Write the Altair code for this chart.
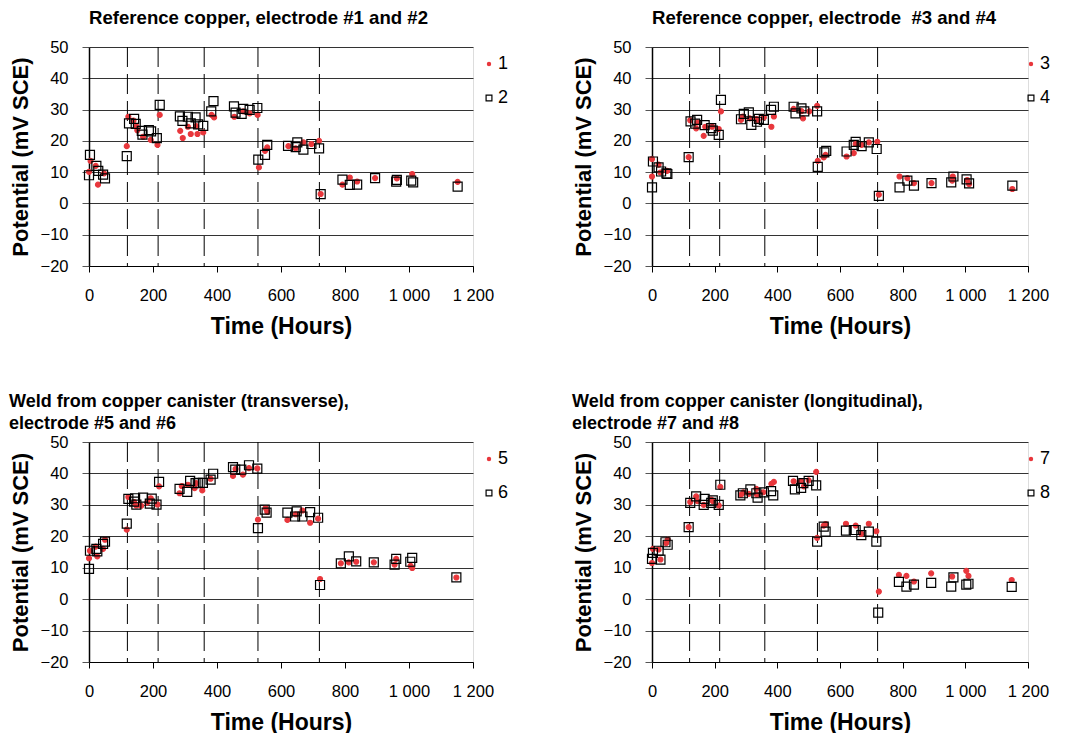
import altair as alt
import pandas as pd

FONT = "Liberation Sans"
RED = "#e8373c"
HOURS_TICKS = [0, 200, 400, 600, 800, 1000, 1200]
POT_TICKS = [-20, -10, 0, 10, 20, 30, 40, 50]
DASHED_HOURS = [120, 216, 360, 528, 720]

# Panel 1: Reference copper, electrodes 1 and 2
p1_e1_hours = [0, 5, 21, 28, 47, 118, 123, 139, 148, 151, 169, 193, 214, 221, 285, 293, 309, 318, 335, 339, 357,
               383, 391, 454, 482, 502, 527, 531, 550, 557, 623, 646, 670, 695, 719, 724, 792, 815, 838, 894,
               962, 1010, 1152]
p1_e1_pot = [10.1, 13.6, 12.0, 6.0, 9.6, 18.3, 27.7, 26.5, 24.6, 23.4, 21.3, 20.3, 18.7, 28.3, 23.2, 20.9, 24.5,
             22.2, 24.7, 22.2, 22.7, 28.3, 27.5, 27.7, 29.4, 28.8, 28.3, 11.5, 16.8, 17.9, 18.3, 17.6, 19.5,
             19.0, 20.0, 3.0, 6.0, 8.3, 7.0, 8.1, 8.0, 9.4, 6.9]
p1_e2_hours = [0, 3, 23, 29, 44, 50, 118, 125, 141, 146, 165, 167, 187, 194, 212, 221, 284, 292, 309, 318, 333,
               341, 357, 382, 389, 453, 458, 477, 482, 502, 526, 529, 550, 557, 622, 646, 651, 670, 695, 719,
               724, 792, 815, 838, 894, 960, 962, 1007, 1013, 1152]
p1_e2_pot = [9.0, 15.5, 12.0, 10.4, 9.2, 8.0, 15.1, 25.6, 27.0, 25.4, 23.2, 22.0, 23.4, 23.0, 20.9, 31.5, 27.8,
             26.4, 27.7, 25.6, 27.5, 25.3, 24.8, 29.4, 32.7, 31.0, 29.0, 28.6, 30.2, 29.9, 30.5, 14.0, 15.5,
             18.7, 18.4, 18.0, 19.5, 17.2, 19.0, 17.6, 3.0, 7.6, 5.9, 6.0, 8.1, 7.0, 7.5, 7.3, 6.7, 5.4]

# Panel 2: Reference copper, electrodes 3 and 4
p2_e3_hours = [0, 0, 21, 27, 48, 117, 122, 141, 145, 165, 170, 192, 213, 220, 284, 290, 312, 333, 337, 357, 381,
               389, 452, 477, 482, 502, 527, 529, 548, 554, 621, 644, 650, 669, 692, 719, 724, 790, 815, 836,
               892, 958, 960, 1006, 1012, 1150]
p2_e3_pot = [14.2, 8.6, 12.4, 9.9, 10.4, 14.8, 26.6, 24.0, 25.9, 21.6, 24.5, 24.5, 23.8, 29.4, 26.7, 27.8, 27.2,
             27.0, 26.7, 27.5, 24.5, 27.8, 30.2, 29.5, 27.2, 29.4, 31.2, 13.6, 14.7, 15.5, 15.0, 16.1, 19.0,
             18.7, 19.5, 19.7, 2.8, 8.6, 8.1, 6.5, 6.5, 7.3, 8.6, 7.5, 6.2, 4.6]
p2_e4_hours = [0, 3, 21, 29, 46, 49, 117, 123, 138, 144, 168, 189, 194, 213, 220, 284, 293, 309, 317, 335, 341,
               357, 380, 389, 452, 458, 477, 486, 527, 529, 550, 556, 621, 644, 650, 669, 692, 717, 724, 790,
               815, 836, 892, 955, 962, 1004, 1012, 1150]
p2_e4_pot = [5.1, 13.4, 11.5, 10.2, 9.6, 9.4, 14.8, 26.2, 25.5, 26.7, 25.0, 24.1, 23.3, 21.9, 33.1, 26.9, 28.6,
             29.1, 25.1, 26.1, 27.0, 26.7, 29.9, 30.9, 30.9, 28.8, 30.4, 29.4, 29.4, 11.7, 16.3, 16.8, 16.6,
             18.7, 19.7, 18.3, 19.5, 17.4, 2.4, 5.1, 7.3, 5.7, 6.5, 6.7, 8.6, 7.7, 6.4, 5.7]

# Panel 3: Weld (transverse), electrodes 5 and 6
p3_e5_hours = [0, 3, 21, 26, 44, 50, 118, 123, 141, 148, 163, 182, 193, 214, 219, 283, 290, 309, 330, 335, 354,
               380, 450, 458, 481, 500, 526, 528, 552, 557, 620, 646, 667, 691, 716, 722, 787, 812, 835, 890,
               955, 960, 1005, 1010, 1148]
p3_e5_pot = [13.0, 15.4, 16.7, 13.6, 16.0, 18.9, 22.1, 32.5, 30.9, 29.8, 29.7, 30.7, 32.1, 30.1, 35.9, 33.7,
             36.0, 36.4, 35.3, 36.9, 34.6, 38.3, 39.2, 41.4, 39.6, 41.7, 41.6, 25.3, 29.0, 27.8, 25.2, 27.0,
             28.2, 24.3, 25.6, 6.4, 11.4, 11.7, 11.9, 11.7, 11.0, 12.8, 10.6, 9.9, 6.9]
p3_e6_hours = [0, 3, 23, 26, 44, 50, 118, 123, 141, 144, 148, 169, 190, 196, 211, 219, 283, 307, 316, 333, 340,
               356, 380, 388, 450, 457, 476, 500, 526, 528, 549, 555, 620, 644, 649, 667, 691, 716, 722, 787,
               812, 835, 890, 955, 960, 1004, 1010, 1148]
p3_e6_pot = [9.6, 15.4, 16.0, 15.2, 17.6, 18.3, 24.0, 31.9, 31.0, 32.1, 30.1, 32.3, 30.4, 32.0, 30.1, 37.3,
             35.1, 34.1, 37.6, 36.9, 37.0, 37.0, 38.0, 39.9, 42.0, 41.2, 41.2, 42.6, 41.5, 22.6, 28.5, 27.5,
             27.5, 26.3, 27.9, 26.3, 27.7, 25.9, 4.5, 11.4, 13.6, 12.0, 11.7, 11.0, 12.8, 11.9, 13.1, 6.9]

# Panel 4: Weld (longitudinal), electrodes 7 and 8
p4_e7_hours = [0, 3, 21, 27, 45, 50, 117, 122, 141, 145, 165, 189, 194, 213, 218, 284, 292, 309, 333, 335, 355,
               381, 389, 452, 476, 485, 500, 524, 527, 548, 554, 619, 650, 668, 692, 716, 724, 788, 812, 836,
               891, 958, 1003, 1010, 1148]
p4_e7_pot = [11.5, 16.0, 15.8, 12.6, 17.8, 18.9, 22.9, 30.9, 32.7, 31.2, 30.0, 31.7, 31.2, 29.8, 35.7, 33.2,
             34.0, 33.5, 35.1, 33.2, 34.0, 36.7, 37.3, 37.5, 37.5, 35.9, 37.8, 40.5, 19.5, 23.4, 23.9, 24.0,
             23.4, 20.8, 24.0, 21.6, 2.4, 7.7, 7.4, 5.6, 8.2, 7.2, 9.0, 7.4, 6.1]
p4_e8_hours = [0, 3, 21, 27, 43, 50, 117, 122, 141, 165, 168, 189, 194, 213, 218, 282, 290, 314, 333, 337, 357,
               380, 387, 450, 456, 476, 483, 500, 524, 527, 548, 554, 619, 644, 650, 668, 692, 716, 722, 788,
               812, 836, 891, 955, 962, 1003, 1010, 1148]
p4_e8_pot = [12.8, 14.7, 15.4, 12.6, 18.1, 17.3, 22.9, 30.6, 32.7, 30.0, 31.9, 30.6, 31.4, 30.0, 36.4, 33.0,
             33.7, 34.9, 33.7, 32.3, 34.0, 34.4, 33.0, 37.6, 34.9, 35.4, 36.9, 37.6, 36.2, 18.3, 23.1, 21.5,
             21.8, 22.0, 22.0, 20.4, 21.5, 18.3, -4.3, 5.5, 4.0, 4.6, 5.2, 4.0, 6.9, 4.6, 4.9, 3.9]

TITLES = [
    "Reference copper, electrode #1 and #2",
    "Reference copper, electrode\u00a0 #3 and #4",
    ["Weld from copper canister (transverse),", "electrode #5 and #6"],
    ["Weld from copper canister (longitudinal),", "electrode #7 and #8"],
]

CIRCLE_PATH = "M0.55,0A0.55,0.55,0,1,1,-0.55,0A0.55,0.55,0,1,1,0.55,0Z"
SQUARE_PATH = "M-1,-1L1,-1L1,1L-1,1Z"


def panel(title, names, h1, v1, h2, v2, width, height, frame, title_offset, title_size, legend_dx):
    df = pd.DataFrame({
        "hours": h1 + h2,
        "potential": v1 + v2,
        "electrode": [names[0]] * len(h1) + [names[1]] * len(h2),
    })
    xscale = alt.Scale(domain=[0, 1200], nice=False, zero=False)
    yscale = alt.Scale(domain=[-20, 50], nice=False, zero=False)
    xaxis = alt.Axis(values=HOURS_TICKS, grid=False, domain=True, domainColor="black", domainWidth=1,
                     ticks=True, tickSize=6, tickColor="black", tickWidth=1, labelFlush=False,
                     labelExpr="datum.value >= 1000 ? replace(format(datum.value, ','), ',', ' ') : datum.value",
                     labelFont=FONT, labelFontSize=16.5, labelColor="black", labelPadding=15,
                     title="Time (Hours)", titleFont=FONT, titleFontSize=23, titleFontWeight="bold",
                     titleColor="black", titlePadding=12)
    yaxis = alt.Axis(values=POT_TICKS, grid=True, gridColor="#333333", gridWidth=1,
                     domain=True, domainColor="black", domainWidth=1.5, labelFlush=False,
                     ticks=True, tickSize=7, tickColor="#555555", tickWidth=1,
                     labelFont=FONT, labelFontSize=16.5, labelColor="black", labelPadding=14,
                     title="Potential (mV SCE)", titleFont=FONT, titleFontSize=22, titleFontWeight="bold",
                     titleColor="black", titlePadding=8)
    rules = alt.Chart(pd.DataFrame({"hours": DASHED_HOURS})).mark_rule(
        color="black", strokeWidth=1, strokeDash=[20, 7]
    ).encode(x=alt.X("hours:Q", scale=xscale, axis=xaxis))
    legend = alt.Legend(title=None, orient="none", legendX=width + legend_dx, legendY=8,
                        labelFont=FONT, labelFontSize=18, labelColor="black", labelOffset=0,
                        symbolSize=34, symbolStrokeWidth=1.2, rowPadding=16)
    pts = alt.Chart(df).mark_point(size=81, strokeWidth=1.2, opacity=1, filled=False).encode(
        x=alt.X("hours:Q", scale=xscale, axis=xaxis),
        y=alt.Y("potential:Q", scale=yscale, axis=yaxis),
        shape=alt.Shape("electrode:N", scale=alt.Scale(domain=names, range=[CIRCLE_PATH, SQUARE_PATH]), legend=legend),
        fill=alt.Fill("electrode:N", scale=alt.Scale(domain=names, range=[RED, "transparent"]), legend=legend),
        stroke=alt.Stroke("electrode:N", scale=alt.Scale(domain=names, range=[RED, "black"]), legend=legend),
    )
    return alt.layer(rules, pts).properties(
        width=width, height=height,
        title=alt.TitleParams(text=title, anchor="start", frame=frame, font=FONT, fontSize=title_size,
                              fontWeight="bold", color="black", offset=title_offset, lineHeight=22),
    )


p1 = panel(TITLES[0], ["1", "2"], p1_e1_hours, p1_e1_pot, p1_e2_hours, p1_e2_pot, 384, 219, "group", 11, 18.6, 7)
p2 = panel(TITLES[1], ["3", "4"], p2_e3_hours, p2_e3_pot, p2_e4_hours, p2_e4_pot, 376, 219, "group", 11, 18.6, -6)
p3 = panel(TITLES[2], ["5", "6"], p3_e5_hours, p3_e5_pot, p3_e6_hours, p3_e6_pot, 384, 220, "bounds", 1, 18, 7)
p4 = panel(TITLES[3], ["7", "8"], p4_e7_hours, p4_e7_pot, p4_e8_hours, p4_e8_pot, 376, 220, "bounds", 1, 18, -6)

indep = dict(shape="independent", fill="independent", stroke="independent")
row1 = alt.hconcat(p1, p2, spacing=61).resolve_scale(**indep)
row2 = alt.hconcat(p3, p4, spacing=61).resolve_scale(**indep)

chart = alt.vconcat(row1, row2, spacing=53).resolve_scale(**indep).properties(
    padding={"left": 8, "top": 8, "right": 0, "bottom": 0}
).configure_view(stroke=None).configure(background="white")

chart.save("out.html", embed_options={"renderer": "svg", "actions": False})
